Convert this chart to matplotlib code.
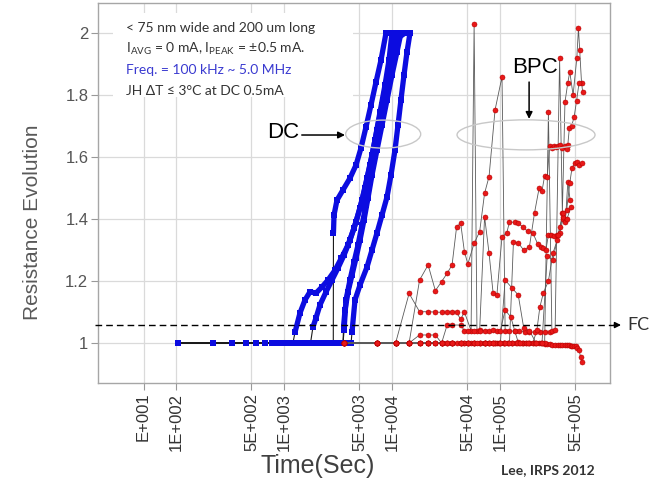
import matplotlib
matplotlib.use("Agg")
import matplotlib.pyplot as plt
import matplotlib.transforms as mtrans
from matplotlib.patches import Ellipse, Rectangle

# ---- DC stress (blue): shared flat part, then each sample's run-away (time in s)
dc_base_t = [105, 220, 330, 440, 550, 660, 770, 880, 990, 1100, 1210, 1320, 1430, 1540, 1650,
             1760, 1870, 1980, 2090, 2200, 2420, 2640, 2860, 3080, 3300, 3520, 3740, 3960, 4180]
dc_base_r = [1.0, 1.0, 1.0, 1.0, 1.0, 1.0, 1.0, 1.0, 1.0, 1.0, 1.0, 1.0, 1.0, 1.0, 1.0,
             1.0, 1.0, 1.0, 1.0, 1.0, 1.0, 1.0, 1.0, 1.0, 1.0, 1.0, 1.0, 1.0, 1.0]

dc1_t = [1265, 1406, 1565, 1740, 1979, 2248, 2555, 2967, 3400, 3913, 4450, 5054, 5623, 6257, 6961, 7743, 8615, 9380, 10000]
dc1_r = [1.035, 1.097, 1.139, 1.165, 1.161, 1.181, 1.203, 1.235, 1.274, 1.316, 1.371, 1.435, 1.50, 1.574, 1.655, 1.745, 1.832, 1.913, 2.0]
dc2_t = [1855, 1979, 2154, 2450, 2780, 3162, 3600, 4084, 4642, 5275, 5867, 6528, 7262, 8082, 8990, 10000, 10889]
dc2_r = [1.052, 1.081, 1.123, 1.165, 1.203, 1.242, 1.284, 1.332, 1.39, 1.461, 1.532, 1.606, 1.687, 1.768, 1.855, 1.939, 2.0]
dc3_t = [2870, 2905, 3095, 3519, 4084, 4642, 5164, 5745, 6390, 7112, 7910, 8799]
dc3_r = [1.355, 1.413, 1.461, 1.494, 1.532, 1.574, 1.629, 1.697, 1.768, 1.842, 1.913, 2.0]
dc4_t = [3560, 3671, 3913, 4262, 4642, 5054, 5505, 5995, 6528, 7262, 8082, 8990, 10000, 11120, 12100]
dc4_r = [1.052, 1.106, 1.165, 1.219, 1.274, 1.332, 1.397, 1.468, 1.542, 1.623, 1.703, 1.784, 1.865, 1.939, 2.0]
dc5_t = [4262, 4544, 5054, 5867, 6528, 7262, 8082, 8990, 9788, 10661, 11365, 12100, 12920, 13770, 14678]
dc5_r = [1.035, 1.139, 1.187, 1.245, 1.30, 1.355, 1.413, 1.471, 1.542, 1.623, 1.703, 1.784, 1.865, 1.939, 2.0]
dc6_t = [3600, 3750, 4084, 4450, 4844, 5275, 5745, 6257, 6813, 7421, 8254, 9183, 10216, 11365, 13195]
dc6_r = [1.042, 1.139, 1.203, 1.261, 1.316, 1.381, 1.445, 1.519, 1.59, 1.671, 1.752, 1.832, 1.913, 1.984, 2.0]
dc_runs = [(dc1_t, dc1_r), (dc2_t, dc2_r), (dc3_t, dc3_r), (dc4_t, dc4_r), (dc5_t, dc5_r), (dc6_t, dc6_r)]

# ---- bipolar pulsed current (red), time in hours
bpc1_h = [1, 2, 3, 4, 5, 6, 7, 8, 9, 10, 11, 12, 13, 14, 16, 18, 20, 22, 25, 29, 31, 34, 38, 42, 47, 52, 58, 65, 72, 80]
bpc1_r = [1.0, 1.0, 1.0, 1.0, 1.203, 1.252, 1.169, 1.198, 1.225, 1.252, 1.373, 1.388, 1.295, 1.255, 1.322, 1.359,
          1.483, 1.537, 1.752, 1.859, 1.04, 1.04, 1.038, 1.038, 1.036, 1.036, 1.035, 1.035, 1.036, 1.035]
bpc2_h = [1, 2, 3, 4, 5, 6, 7, 8, 9, 10, 11, 12, 13, 15, 16, 17, 18, 20, 22, 24, 26, 28, 31, 35, 38, 41, 45]
bpc2_r = [1.0, 1.0, 1.0, 1.16, 1.101, 1.101, 1.10, 1.099, 1.10, 1.101, 1.10, 1.076, 1.10, 1.04, 2.03, 1.04,
          1.042, 1.04, 1.04, 1.041, 1.04, 1.04, 1.106, 1.084, 1.04, 1.002, 1.0]
bpc3_h = [1, 2, 3, 4, 5, 6, 7, 8, 9, 10, 12, 13, 14, 16, 18, 20, 22, 24, 26, 29, 32, 34, 38, 41, 45, 50, 56,
          62, 66, 70, 74, 78, 83, 88, 94, 100, 106, 112, 118, 124]
bpc3_r = [1.0, 1.0, 1.0, 1.0, 1.026, 1.026, 1.026, 1.0, 1.058, 1.058, 1.058, 1.04, 1.04, 1.04, 1.04, 1.407,
          1.29, 1.16, 1.155, 1.343, 1.354, 1.39, 1.39, 1.387, 1.375, 1.36, 1.355, 1.32, 1.31, 1.305, 1.30,
          1.35, 1.348, 1.345, 1.348, 1.355, 1.40, 1.39, 1.52, 1.46]
bpc4_h = [1, 2, 3, 4, 5, 6, 7, 8, 9, 10, 12, 14, 16, 18, 20, 22, 24, 27, 30, 33, 36, 40, 44, 48, 52, 56,
          61, 65, 70, 78, 86, 94, 100, 106, 115, 123, 129, 137, 143, 150, 158]
bpc4_r = [1.0, 1.0, 1.0, 1.0, 1.0, 1.0, 1.0, 1.0, 1.0, 1.0, 1.0, 1.0, 1.0, 1.0, 1.0, 1.0, 1.0, 1.0, 1.0,
          1.0, 1.0, 1.0, 1.0, 1.0, 1.0, 1.0, 1.042, 1.116, 1.161, 1.20, 1.29, 1.332, 1.374, 1.406, 1.429,
          1.516, 1.565, 1.58, 1.584, 1.575, 1.58]
bpc5_h = [1, 2, 3, 4, 6, 8, 10, 13, 16, 20, 25, 30, 36, 43, 50, 58, 66, 72, 78, 84, 90, 99, 105, 111, 118,
          123, 132, 143, 148, 152, 158, 162]
bpc5_r = [1.0, 1.0, 1.0, 1.0, 1.0, 1.0, 1.0, 1.0, 1.0, 1.0, 1.0, 1.0, 1.0, 1.0, 1.0, 1.0, 1.0, 1.0, 1.745,
          1.04, 1.042, 1.918, 1.42, 1.777, 1.84, 1.875, 1.80, 1.92, 2.016, 1.945, 1.84, 1.81]
bpc6_h = [1, 2, 3, 4, 5, 6, 7, 8, 9, 10, 12, 14, 16, 18, 20, 22, 25, 28, 31, 34, 37, 41, 46, 52, 58, 64, 68,
          72, 76, 80, 84, 88, 92, 96, 100, 105, 110, 115, 118, 122, 128, 135, 142, 150]
bpc6_r = [1.0, 1.0, 1.0, 1.0, 1.0, 1.0, 1.0, 1.0, 1.0, 1.0, 1.0, 1.0, 1.0, 1.0, 1.0, 1.0, 1.0, 1.0, 1.0, 1.0,
          1.326, 1.323, 1.30, 1.31, 1.42, 1.50, 1.49, 1.54, 1.535, 1.635, 1.63, 1.635, 1.632, 1.635, 1.64,
          1.63, 1.635, 1.625, 1.64, 1.695, 1.70, 1.73, 1.78, 1.84]
bpc7_h = [1, 2, 3, 4, 5, 6, 7, 8, 9, 10, 11, 12, 13, 14, 15, 16, 18, 20, 22, 24, 26, 28, 30, 33, 36, 39, 42,
          45, 48, 52, 56, 60, 64, 68, 72, 76, 80, 85, 90, 95, 100, 105, 110, 115, 120, 125, 130, 135, 140,
          145, 150, 155, 160]
bpc7_r = [1.0, 1.0, 1.0, 1.0, 1.0, 1.0, 1.0, 1.0, 1.0, 1.0, 1.0, 1.0, 1.0, 1.0, 1.0, 1.0, 1.0, 1.0, 1.0,
          1.0, 1.0, 1.0, 1.0, 1.0, 1.0, 1.0, 1.0, 1.0, 1.0, 1.0, 1.0, 1.0, 1.0, 1.0, 0.998, 0.997, 0.996,
          0.995, 0.995, 0.994, 0.994, 0.993, 0.993, 0.992, 0.992, 0.991, 0.99, 0.99, 0.99, 0.985, 0.977,
          0.955, 0.94]
bpc8_h = [1, 2, 3, 4, 5, 6, 8, 10, 12, 14, 17, 20, 24, 28, 31, 36, 41, 46, 52, 60, 68, 76, 86, 96, 106, 116, 126]
bpc8_r = [1.0, 1.0, 1.0, 1.0, 1.0, 1.0, 1.0, 1.0, 1.0, 1.0, 1.0, 1.0, 1.0, 1.0, 1.203, 1.177, 1.155, 1.05,
          1.04, 1.0, 1.0, 1.28, 1.268, 1.35, 1.42, 1.40, 1.44]
bpc_runs = [(bpc7_h, bpc7_r), (bpc1_h, bpc1_r), (bpc2_h, bpc2_r), (bpc3_h, bpc3_r), (bpc4_h, bpc4_r),
            (bpc5_h, bpc5_r), (bpc6_h, bpc6_r), (bpc8_h, bpc8_r)]

fc_level = 1.058
xticks = [50, 100, 500, 1000, 5000, 1e4, 5e4, 1e5, 5e5]
xticklabels = ["E+001", "1E+002", "5E+002", "1E+003", "5E+003", "1E+004", "5E+004", "1E+005", "5E+005"]
yticks = [1, 1.2, 1.4, 1.6, 1.8, 2]
yticklabels = ["1", "1.2", "1.4", "1.6", "1.8", "2"]

notes = ["< 75 nm wide and 200 um long",
         r"I$_{\mathrm{AVG}}$ = 0 mA, I$_{\mathrm{PEAK}}$ = ±0.5 mA.",
         "Freq. = 100 kHz ~ 5.0 MHz",
         "JH ΔT ≤ 3°C at DC 0.5mA"]
note_colors = ["#333333", "#333333", "#3a3ad0", "#333333"]

plt.rcParams["font.family"] = ["Liberation Sans", "DejaVu Sans"]
plt.rcParams["mathtext.fontset"] = "custom"
plt.rcParams["mathtext.rm"] = "Lato"

W, H = 666, 493
fig = plt.figure(figsize=(W / 100, H / 100), dpi=100)
ax = fig.add_axes([98 / W, 1 - 383 / H, 512 / W, 380 / H])

ax.set_xscale("log")
ax.set_xlim(18.95, 1.044e6)
ax.set_ylim(0.871, 2.097)
ax.set_xticks(xticks)
ax.set_xticklabels(xticklabels, rotation=90, fontsize=12, color="#333333")
ax.minorticks_off()
ax.set_yticks(yticks)
ax.set_yticklabels(yticklabels, fontsize=12, color="#555555")
ax.tick_params(axis="both", length=5, width=0.8, color="#999999", pad=2)
ax.grid(True, color="#dadada", lw=0.9)
ax.set_axisbelow(True)
for s in ax.spines.values():
    s.set_color("#a6a6a6")
    s.set_linewidth(1.0)

# white panel behind the test conditions
ax.add_patch(Rectangle((0.029, 0.753), 0.469, 0.221, transform=ax.transAxes,
                       facecolor="white", edgecolor="none", zorder=1))
note_y = [0.925, 0.870, 0.813, 0.759]
for txt, c, y in zip(notes, note_colors, note_y):
    ax.text(0.0547, y, txt, transform=ax.transAxes, fontsize=10, color=c, va="baseline",
            family=["Lato", "DejaVu Sans"], zorder=6)

# DC curves: thin connector underneath, blue beads on top
blue = "#0c0ce0"
for t, r in dc_runs:
    bt = [b for b in dc_base_t if b < t[0]]
    br = dc_base_r[:len(bt)]
    ax.plot(bt + t, br + r, "-", color="#1a1a1a", lw=0.8, zorder=2)
    ax.plot(t, r, "-", color=blue, lw=3.8, solid_capstyle="round", zorder=2.5)
    ax.plot(bt + t, br + r, "s", color=blue, ms=4.3, mew=0, zorder=3)

# BPC curves
for h, r in bpc_runs:
    t = [v * 3600 for v in h]
    ax.plot(t, r, "-", color="#5a5a5a", lw=0.6, zorder=4)
    ax.plot(t, r, "o", color="#e81818", ms=3.6, mec="#b80000", mew=0.4, zorder=4.5)

# failure criterion
blend = mtrans.blended_transform_factory(ax.transAxes, ax.transData)
ax.plot([-0.006, 1.012], [fc_level, fc_level], transform=blend, color="black", lw=1,
        ls=(0, (4.8, 2.9)), clip_on=False, zorder=5)
ax.annotate("", xy=(1.0215, fc_level), xytext=(1.008, fc_level), xycoords=blend, textcoords=blend,
            arrowprops=dict(arrowstyle="-|>", color="black", lw=1, mutation_scale=9,
                            shrinkA=0, shrinkB=0), annotation_clip=False)
ax.text(1.033, fc_level, "FC", transform=blend, fontsize=13, color="#333333", va="center",
        ha="left", family=["Lato", "DejaVu Sans"], clip_on=False)

# DC / BPC callouts
ax.add_patch(Ellipse((0.557, 0.655), 0.1465, 0.0737, transform=ax.transAxes,
                     facecolor="none", edgecolor="#c8c8c8", lw=1, zorder=5))
ax.add_patch(Ellipse((0.836, 0.653), 0.2695, 0.079, transform=ax.transAxes,
                     facecolor="none", edgecolor="#c8c8c8", lw=1, zorder=5))
ax.text(0.361, 0.658, "DC", transform=ax.transAxes, fontsize=16, color="black",
        ha="center", va="center", zorder=6)
ax.annotate("", xy=(0.4824, 0.6526), xytext=(0.398, 0.6526), xycoords=ax.transAxes,
            arrowprops=dict(arrowstyle="-|>", color="black", lw=1.1, mutation_scale=10,
                            shrinkA=0, shrinkB=0), zorder=6)
ax.text(0.8535, 0.829, "BPC", transform=ax.transAxes, fontsize=16, color="black",
        ha="center", va="center", zorder=6)
ax.annotate("", xy=(0.842, 0.695), xytext=(0.842, 0.792), xycoords=ax.transAxes,
            arrowprops=dict(arrowstyle="-|>", color="black", lw=1.1, mutation_scale=10,
                            shrinkA=0, shrinkB=0), zorder=6)

fig.text(33 / W, 1 - 222 / H, "Resistance Evolution", rotation=90, fontsize=15,
         color="#595959", ha="center", va="center")
fig.text(318 / W, 1 - 466 / H, "Time(Sec)", fontsize=18, color="#404040", ha="center", va="center")
fig.text(548 / W, 1 - 470 / H, "Lee, IRPS 2012", fontsize=10, fontweight="bold", color="#333333",
         ha="center", va="center", family=["Lato", "DejaVu Sans"])

fig.savefig("out.png", dpi=100)
